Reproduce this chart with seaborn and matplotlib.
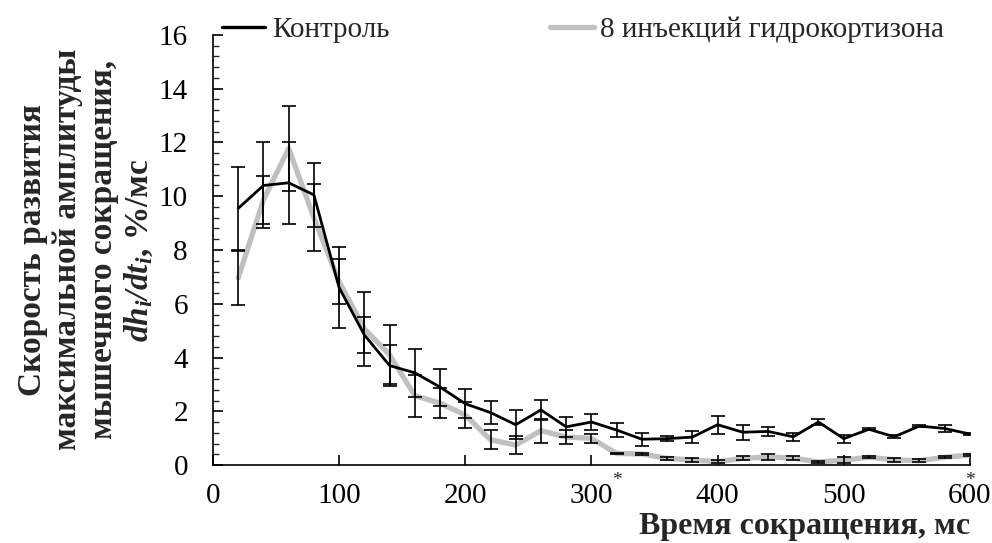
import numpy as np
import pandas as pd
import matplotlib
matplotlib.use("Agg")
import matplotlib.pyplot as plt
import seaborn as sns
from matplotlib.ticker import MultipleLocator
from matplotlib.lines import Line2D

# ---------------- data ----------------
time_ms = [20, 40, 60, 80, 100, 120, 140, 160, 180, 200,
           220, 240, 260, 280, 300, 320, 340, 360, 380, 400,
           420, 440, 460, 480, 500, 520, 540, 560, 580, 600]
control = [9.55, 10.4, 10.5, 10.05, 6.6, 4.84, 3.7, 3.43, 2.9, 2.28,
           1.95, 1.5, 2.05, 1.42, 1.6, 1.3, 0.96, 0.98, 1.04, 1.5,
           1.22, 1.25, 1.05, 1.6, 0.98, 1.33, 1.05, 1.45, 1.36, 1.15]
control_err = [1.55, 1.6, 1.52, 1.2, 1.52, 0.68, 0.75, 0.9, 0.69, 0.54,
               0.44, 0.55, 0.38, 0.38, 0.31, 0.25, 0.25, 0.1, 0.23, 0.34,
               0.28, 0.18, 0.15, 0.11, 0.15, 0.03, 0.05, 0.05, 0.12, 0.05]
hydro = [6.96, 9.86, 11.78, 9.2, 6.82, 5.07, 4.1, 2.58, 2.3, 1.86,
         0.94, 0.74, 1.28, 1.04, 0.99, 0.43, 0.41, 0.25, 0.19, 0.12,
         0.25, 0.30, 0.26, 0.11, 0.18, 0.29, 0.19, 0.16, 0.29, 0.37]
hydro_err = [1.0, 0.89, 1.58, 1.24, 0.83, 1.37, 1.1, 0.78, 0.55, 0.47,
             0.36, 0.33, 0.45, 0.26, 0.16, 0.03, 0.05, 0.06, 0.06, 0.06,
             0.08, 0.1, 0.07, 0.05, 0.1, 0.04, 0.06, 0.06, 0.04, 0.05]
series_names = ["Контроль", "8 инъекций гидрокортизона"]
x_ticks = [0, 100, 200, 300, 400, 500, 600]
y_ticks = [0, 2, 4, 6, 8, 10, 12, 14, 16]
star_positions = [320, 600]

# ---------------- style ----------------
sns.set_theme(style="white")
plt.rcParams["font.family"] = ["Liberation Serif", "DejaVu Serif"]
plt.rcParams.update({
    "mathtext.fontset": "custom",
    "mathtext.rm": "Liberation Serif",
    "mathtext.it": "Liberation Serif:italic",
    "mathtext.bf": "Liberation Serif:bold",
    "mathtext.bfit": "Liberation Serif:italic:bold",
    "axes.edgecolor": "black",
    "axes.linewidth": 1.2,
})

fig = plt.figure(figsize=(9.92, 5.43), dpi=100)
ax = fig.add_axes([0.2147, 0.1436, 0.763, 0.792])

df_c = pd.DataFrame({"t": time_ms, "v": control})
df_h = pd.DataFrame({"t": time_ms, "v": hydro})

sns.lineplot(data=df_h, x="t", y="v", ax=ax, color="#c0c0c0", linewidth=3.8,
             solid_joinstyle="round", solid_capstyle="round", zorder=2)
sns.lineplot(data=df_c, x="t", y="v", ax=ax, color="black", linewidth=2.0,
             solid_joinstyle="round", solid_capstyle="round", zorder=3)

ax.errorbar(time_ms, hydro, yerr=hydro_err, fmt="none", ecolor="black",
            elinewidth=1.2, capsize=5, capthick=1.2, zorder=4)
ax.errorbar(time_ms, control, yerr=control_err, fmt="none", ecolor="black",
            elinewidth=1.2, capsize=5, capthick=1.2, zorder=4)

ax.set_xlim(0, 600)
ax.set_ylim(0, 16)
ax.set_xticks(x_ticks)
ax.set_yticks(y_ticks)
ax.yaxis.set_minor_locator(MultipleLocator(0.4))
ax.tick_params(axis="x", which="major", direction="in", length=7, width=1.2,
               labelsize=21, pad=13, colors="black", bottom=True)
ax.tick_params(axis="y", which="major", direction="in", length=7, width=1.2,
               labelsize=21, pad=18, colors="black", left=True)
ax.tick_params(axis="y", which="minor", direction="in", length=4, width=1.0,
               left=True)
for side in ["top", "right"]:
    ax.spines[side].set_visible(False)
ax.set_xlabel("")
ax.set_ylabel("")
ax.grid(False)

# significance marks
for xs in star_positions:
    ax.text(xs, -0.58, "*", ha="center", va="center", fontsize=14,
            transform=ax.transData, clip_on=False)

# legend
handles = [Line2D([], [], color="black", linewidth=2.4),
           Line2D([], [], color="#c0c0c0", linewidth=3.8)]
ax.legend(handles, series_names, loc="center left", bbox_to_anchor=(0.0, 1.012),
          ncol=2, frameon=False, fontsize=21, handlelength=1.5,
          handletextpad=0.22, columnspacing=5.5, borderpad=0, borderaxespad=0.3)

# axis titles
fig.text(0.978, 0.031, "Время сокращения, мс", ha="right", va="center",
         fontsize=23, fontweight="bold")
ylab = ("Скорость развития\nмаксимальной амплитуды\nмышечного сокращения,\n"
        r"$\mathbfit{dh_i/dt_i}$, %/мс")
fig.text(0.087, 0.54, ylab, ha="center", va="center", rotation=90,
         fontsize=24, fontweight="bold", multialignment="center", linespacing=1.17)

fig.savefig("out.png", dpi=100)
